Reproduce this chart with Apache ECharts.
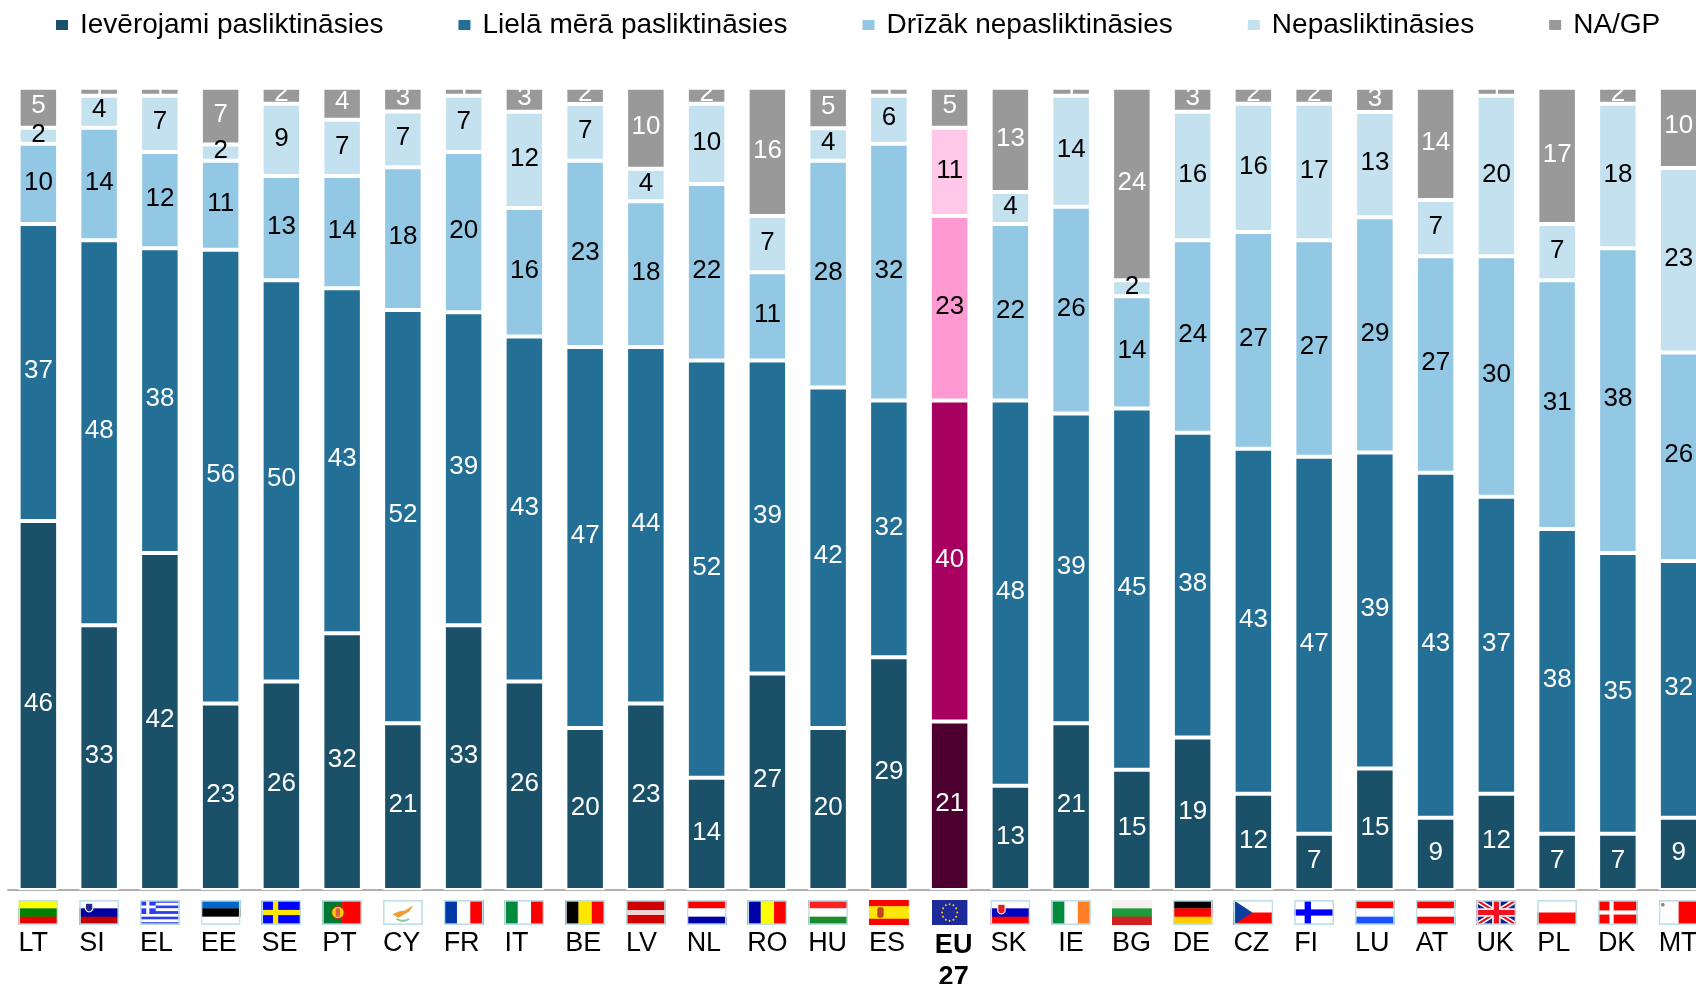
<!DOCTYPE html>
<html><head><meta charset="utf-8">
<style>html,body{margin:0;padding:0;background:#fff;overflow:hidden}#c{width:1696px;height:984px}</style>
<script src="https://cdn.jsdelivr.net/npm/echarts@6/dist/echarts.min.js"></script>
</head><body><div id="c"></div>
<script>
const categories = ['LT','SI','EL','EE','SE','PT','CY','FR','IT','BE','LV','NL','RO','HU','ES','EU27','SK','IE','BG','DE','CZ','FI','LU','AT','UK','PL','DK','MT'];
const seriesNames = ['Ievērojami pasliktināsies','Lielā mērā pasliktināsies','Drīzāk nepasliktināsies','Nepasliktināsies','NA/GP'];
const ievērojami = [46,33,42,23,26,32,21,33,26,20,23,14,27,20,29,21,13,21,15,19,12,7,15,9,12,7,7,9];
const lielāMērā  = [37,48,38,56,50,43,52,39,43,47,44,52,39,42,32,40,48,39,45,38,43,47,39,43,37,38,35,32];
const drīzāk     = [10,14,12,11,13,14,18,20,16,23,18,22,11,28,32,23,22,26,14,24,27,27,29,27,30,31,38,26];
const nepaslikt  = [2,4,7,2,9,7,7,7,12,7,4,10,7,4,6,11,4,14,2,16,16,17,13,7,20,7,18,23];
const naGp       = [5,1,1,7,2,4,3,1,3,2,10,2,16,5,1,5,13,1,24,3,2,2,3,14,1,17,2,10];
const rawSeries = [ievērojami, lielāMērā, drīzāk, nepaslikt, naGp];
const colors = ['#1A5068','#246F96','#93C8E4','#C4E1F0','#999999'];
const euColors = ['#4D0030','#A70060','#FF99D2','#FFC8E8','#999999'];
const labelColors = ['#fff','#fff','#000','#000','#fff'];
const EU = categories.indexOf('EU27');
// the source is a 100% stack: rounded labels can add up to 99 or 101
const totals = categories.map((_, i) => rawSeries.reduce((s, a) => s + a[i], 0));

/* ---------- flags ---------- */
const W = 38, H = 24;
const hs = (...c) => c.map((x, i) => `<rect x="0" y="${i*H/c.length}" width="${W}" height="${H/c.length+0.3}" fill="${x}"/>`).join('');
const vs = (...c) => c.map((x, i) => `<rect x="${i*W/c.length}" y="0" width="${W/c.length+0.3}" height="${H}" fill="${x}"/>`).join('');
const r = (x, y, w, h, f) => `<rect x="${x}" y="${y}" width="${w}" height="${h}" fill="${f}"/>`;
const stars = Array.from({length: 12}, (_, i) => {
  const a = i * Math.PI / 6;
  return `<circle cx="${(19+8*Math.cos(a)).toFixed(1)}" cy="${(12+8*Math.sin(a)).toFixed(1)}" r="1" fill="#FFD500"/>`;
}).join('');
const elStripes = [0,1,2,3,4,5,6,7,8].map(i => r(0, i*H/9, W, H/9+0.2, i % 2 ? '#fff' : '#2A3DF0')).join('');
const flagArt = {
  LT: hs('#FFFF00','#008000','#E60000'),
  SI: hs('#fff','#0000A0','#C00000') + `<path d="M6 3h7v6q-3.5 5-7 0z" fill="#1A2A90" stroke="#fff"/>`,
  EL: elStripes + r(0,0,15,13.3,'#2A3DF0') + r(6,0,3,13.3,'#fff') + r(0,5.3,15,2.7,'#fff'),
  EE: hs('#0066CC','#000','#fff'),
  SE: r(0,0,W,H,'#0000FF') + r(11,0,5,H,'#FFE600') + r(0,9.5,W,5,'#FFE600'),
  PT: vs('#007A33','#FF0000') + `<circle cx="15" cy="12" r="6" fill="#FFD000" stroke="#B03020"/><rect x="13" y="8" width="4" height="8" fill="#E06050"/>`,
  CY: r(0,0,W,H,'#fff') + `<path d="M9 14l6-3 6-1 8-5-4 6-5 3-5 3z" fill="#F29A2E"/><path d="M13 18q6 4 12 0" stroke="#8CC8A0" stroke-width="2" fill="none"/>`,
  FR: vs('#0038A8','#fff','#FF0000'),
  IT: vs('#008A3C','#fff','#FF0000'),
  BE: vs('#000','#FFE600','#FF0000'),
  LV: hs('#D00000','#D00000','#F4D0D0','#D00000','#D00000'),
  NL: hs('#FF0000','#fff','#0000A8'),
  RO: vs('#0000A8','#FFFF00','#FF0000'),
  HU: hs('#FF2020','#fff','#1E8A2E'),
  ES: hs('#FF0000','#FFE600','#FFE600','#FF0000') + `<rect x="8" y="7" width="6" height="10" rx="2" fill="#C04020"/>`,
  EU: r(0,0,W,H,'#1E2A9A') + stars,
  SK: hs('#fff','#0000C0','#FF0000') + `<path d="M7 4h7v7q-3.5 5-7 0z" fill="#E02020" stroke="#fff"/>`,
  IE: vs('#008A3C','#fff','#FF7F27'),
  BG: hs('#F4F0EC','#1E9A3C','#D02020'),
  DE: hs('#000','#FF0000','#FFCC00'),
  CZ: hs('#fff','#FF0000') + `<path d="M0 0L18 12L0 24z" fill="#0A3FA0"/>`,
  FI: r(0,0,W,H,'#fff') + r(10,0,6,H,'#0000FF') + r(0,9,W,6,'#0000FF'),
  LU: hs('#FF0000','#fff','#1A50FF'),
  AT: hs('#FF0000','#fff','#FF0000'),
  UK: r(0,0,W,H,'#1A237E') + `<path d="M0 0L38 24M38 0L0 24" stroke="#fff" stroke-width="5"/><path d="M0 0L38 24M38 0L0 24" stroke="#E81020" stroke-width="2"/>` + r(15,0,8,H,'#fff') + r(0,8,W,8,'#fff') + r(16.5,0,5,H,'#F01020') + r(0,9.5,W,5,'#F01020'),
  PL: hs('#fff','#FF0000'),
  DK: r(0,0,W,H,'#FF0000') + r(11,0,4,H,'#fff') + r(0,10,W,4,'#fff'),
  MT: vs('#fff','#FF0000') + `<circle cx="4" cy="4.5" r="1.8" fill="#A08080"/>`
};
const noFrame = ['ES','EU','BG'];
const flagUri = c => {
  const framed = !noFrame.includes(c);
  const frame = framed ? `<rect x="0.8" y="0.8" width="${W-1.6}" height="${H-1.6}" fill="none" stroke="#BFE0E8" stroke-width="1.6"/>` : '';
  const svg = `<svg xmlns="http://www.w3.org/2000/svg" width="40" height="25" viewBox="0 0 ${W} ${H}" preserveAspectRatio="none">${flagArt[c]}${frame}</svg>`;
  return 'data:image/svg+xml;charset=utf-8,' + encodeURIComponent(svg);
};
const code = c => c === 'EU27' ? 'EU' : c;
const rich = {
  nm: {fontFamily:'Liberation Sans', fontSize:27, color:'#000', lineHeight:37, align:'left'},
  nmIE: {fontFamily:'Liberation Sans', fontSize:27, color:'#000', lineHeight:37, align:'center'},
  eu1: {fontFamily:'Liberation Sans', fontSize:27, fontWeight:'bold', color:'#000', lineHeight:42, align:'center', padding:[0,0,0,8]},
  eu2: {fontFamily:'Liberation Sans', fontSize:27, fontWeight:'bold', color:'#000', lineHeight:21, align:'center', padding:[0,0,0,8]}
};
categories.forEach(c => {
  rich['f' + code(c)] = {width:c === 'EU27' ? 36 : 40, height:25, lineHeight:25, align:'center', backgroundColor:{image:flagUri(code(c))}};
});

const chart = echarts.init(document.getElementById('c'), null, {renderer:'canvas'});
chart.setOption({
  animation:false,
  backgroundColor:'#fff',
  legend:{
    left:54, top:11, padding:0, itemWidth:14, itemHeight:12, itemGap:73, icon:'rect',
    data:seriesNames,
    textStyle:{fontFamily:'Liberation Sans', fontSize:28, color:'#000', padding:[0,0,0,6]}
  },
  grid:{left:8, right:-13, top:87.7, bottom:94, outerBoundsMode:'none'},
  xAxis:{
    type:'category', data:categories,
    axisTick:{show:false},
    axisLine:{lineStyle:{color:'#B0B0B0', width:2}},
    axisLabel:{
      interval:0, margin:10, hideOverlap:false, verticalAlign:'top',
      formatter:c => c === 'EU27' ? `{fEU|}\n{eu1|EU}\n{eu2|27}` : `{f${c}|}\n{${c === 'IE' ? 'nmIE' : 'nm'}|${c}}`,
      rich
    }
  },
  yAxis:{type:'value', min:0, max:100, show:false, splitLine:{show:false}},
  series:seriesNames.map((name, s) => ({
    name, type:'bar', stack:'total', barWidth:39.5,
    itemStyle:{color:colors[s], borderColor:'#fff', borderWidth:2},
    label:{
      show:true, position:'inside', offset:[0,-1.5],
      fontFamily:'Liberation Sans', fontSize:26, color:labelColors[s],
      formatter:p => String(rawSeries[s][p.dataIndex])
    },
    data:rawSeries[s].map((v, i) => ({
      value:v / totals[i] * 100,
      itemStyle:i === EU ? {color:euColors[s]} : undefined
    }))
  }))
});
</script></body></html>
